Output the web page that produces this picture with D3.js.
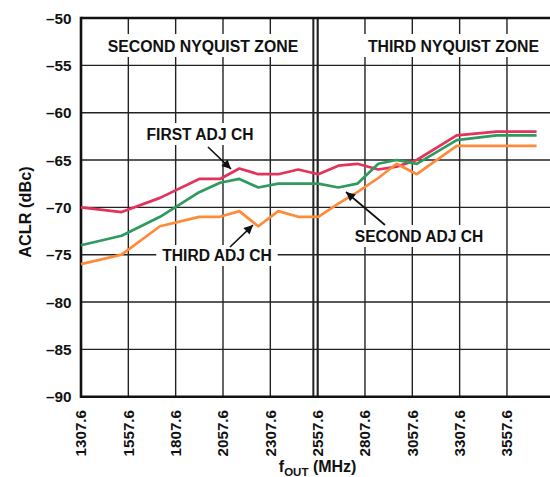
<!DOCTYPE html>
<html><head><meta charset="utf-8">
<script src="https://cdn.jsdelivr.net/npm/d3@7"></script>
<style>body{margin:0;background:#fff}svg{display:block}text{font-family:"Liberation Sans",Arial,sans-serif;font-weight:bold;fill:#111}</style>
</head><body>
<script>
// ---- data ----
const freqs = [1307.6,1522,1725,1932,2042,2144,2244,2350,2455,2561,2667,2767,2878,2975,3081,3292,3503,3714];
const firstAdj  = [-70.0,-70.5,-69.0,-67.0,-67.0,-65.9,-66.5,-66.5,-66.0,-66.5,-65.6,-65.4,-66.0,-65.7,-65.0,-62.4,-62.0,-62.0];
const secondAdj = [-74.0,-73.0,-71.0,-68.4,-67.4,-67.0,-67.9,-67.5,-67.5,-67.5,-67.9,-67.5,-65.4,-65.0,-65.4,-62.9,-62.4,-62.4];
const thirdAdj  = [-76.0,-75.0,-72.0,-71.0,-71.0,-70.4,-72.0,-70.4,-71.0,-71.0,-69.6,-68.4,-66.9,-65.4,-66.5,-63.5,-63.5,-63.5];
const xTicks = [1307.6,1557.6,1807.6,2057.6,2307.6,2557.6,2807.6,3057.6,3307.6,3557.6];
const xGrid = [1557.6,1807.6,2057.6,2307.6,2557.6,2807.6,3057.6,3307.6,3557.6];
const yTicks = [-50,-55,-60,-65,-70,-75,-80,-85,-90];
const zoneBoundary = 2557.6;
const zoneLabels = [{text:"SECOND NYQUIST ZONE", f:1952}, {text:"THIRD NYQUIST ZONE", f:3275}];

const W=550,H=477;
const svg=d3.select("body").append("svg").attr("width",W).attr("height",H);
const x=d3.scaleLinear().domain([1307.6,3807.6]).range([81,554.3]);
const y=d3.scaleLinear().domain([-90,-50]).range([396.7,18]);
const gridCol="#222";

// grid
svg.append("g").selectAll("line").data(yTicks.filter(v=>v>-90&&v<-50)).join("line")
  .attr("x1",x.range()[0]).attr("x2",x.range()[1]).attr("y1",d=>y(d)).attr("y2",d=>y(d))
  .attr("stroke",gridCol).attr("stroke-width",1.4);
svg.append("g").selectAll("line").data(xGrid).join("line")
  .attr("x1",d=>x(d)).attr("x2",d=>x(d)).attr("y1",y(-50)).attr("y2",y(-90))
  .attr("stroke",gridCol).attr("stroke-width",1.4);
// double boundary line
[x(zoneBoundary)-4.3, x(zoneBoundary)].forEach(px=>{
  svg.append("line").attr("x1",px).attr("x2",px).attr("y1",y(-50)).attr("y2",y(-90))
    .attr("stroke",gridCol).attr("stroke-width",2);
});
// frame
svg.append("line").attr("x1",x.range()[0]).attr("x2",x.range()[1]).attr("y1",y(-50)).attr("y2",y(-50)).attr("stroke","#111").attr("stroke-width",2.4);
svg.append("line").attr("x1",x.range()[0]).attr("x2",x.range()[1]).attr("y1",y(-90)).attr("y2",y(-90)).attr("stroke","#111").attr("stroke-width",2.4);
svg.append("line").attr("x1",x.range()[0]).attr("x2",x.range()[0]).attr("y1",y(-50)-1.2).attr("y2",y(-90)+1.2).attr("stroke","#111").attr("stroke-width",2.6);

function labelWithBg(text,cx,baseline,size,padX,padTop,padBot){
  const g=svg.append("g");
  const r=g.append("rect").attr("fill","#fff");
  const t=g.append("text").attr("x",cx).attr("y",baseline).attr("text-anchor","middle")
    .attr("font-size",size).text(text);
  const b=t.node().getBBox();
  r.attr("x",b.x-padX).attr("y",b.y-padTop).attr("width",b.width+2*padX).attr("height",b.height+padTop+padBot);
  return g;
}
// zone labels
zoneLabels.forEach(z=>labelWithBg(z.text,x(z.f),52,15.8,6,4,2));

// annotations with white bg
labelWithBg("FIRST ADJ CH",200,140,15.6,5,3,2);
labelWithBg("THIRD ADJ CH",217,261,15.6,6,2,2);
labelWithBg("SECOND ADJ CH",419,242,15.6,5,3,2);

// series
const series=[
  {vals:firstAdj,color:"#e2335c"},
  {vals:secondAdj,color:"#2e9a5e"},
  {vals:thirdAdj,color:"#ff8a3a"}
];
const line=d3.line().x((d,i)=>x(freqs[i])).y(d=>y(d));
series.forEach(s=>{
  svg.append("path").datum(s.vals).attr("d",line).attr("fill","none")
    .attr("stroke",s.color).attr("stroke-width",2.7).attr("stroke-linejoin","round");
});

// arrows
svg.append("defs").append("marker").attr("id","ah").attr("viewBox","0 0 10 10")
  .attr("refX",10).attr("refY",5).attr("markerWidth",12).attr("markerHeight",9)
  .attr("markerUnits","userSpaceOnUse").attr("orient","auto")
  .append("path").attr("d","M0,0 L10,5 L0,10 z").attr("fill","#111");
const arrows=[[208,147,231,169],[230,247,253,225],[385,225,346,192]];
svg.append("g").selectAll("line").data(arrows).join("line")
  .attr("x1",d=>d[0]).attr("y1",d=>d[1]).attr("x2",d=>d[2]).attr("y2",d=>d[3])
  .attr("stroke","#111").attr("stroke-width",1.7).attr("marker-end","url(#ah)");

// y tick labels
svg.append("g").selectAll("text").data(yTicks).join("text")
  .attr("x",71.5).attr("y",d=>y(d)).attr("dy","0.36em").attr("text-anchor","end")
  .attr("font-size",15.3).text(d=>"\u2013"+Math.abs(d));
// x tick labels
svg.append("g").selectAll("text").data(xTicks).join("text")
  .attr("transform",d=>`translate(${x(d)},410) rotate(-90)`).attr("dy","0.36em")
  .attr("text-anchor","end").attr("font-size",15.2).text(d=>d.toFixed(1));

// axis titles
svg.append("text").attr("transform",`translate(31,212) rotate(-90)`)
  .attr("text-anchor","middle").attr("font-size",16.3).text("ACLR (dBc)");
const xt=svg.append("text").attr("x",(x.range()[0]+x.range()[1])/2).attr("y",472).attr("text-anchor","middle").attr("font-size",16);
xt.append("tspan").text("f");
xt.append("tspan").attr("font-size",11.5).attr("dy",3.5).text("OUT");
xt.append("tspan").attr("dy",-3.5).text(" (MHz)");
</script>
</body></html>
